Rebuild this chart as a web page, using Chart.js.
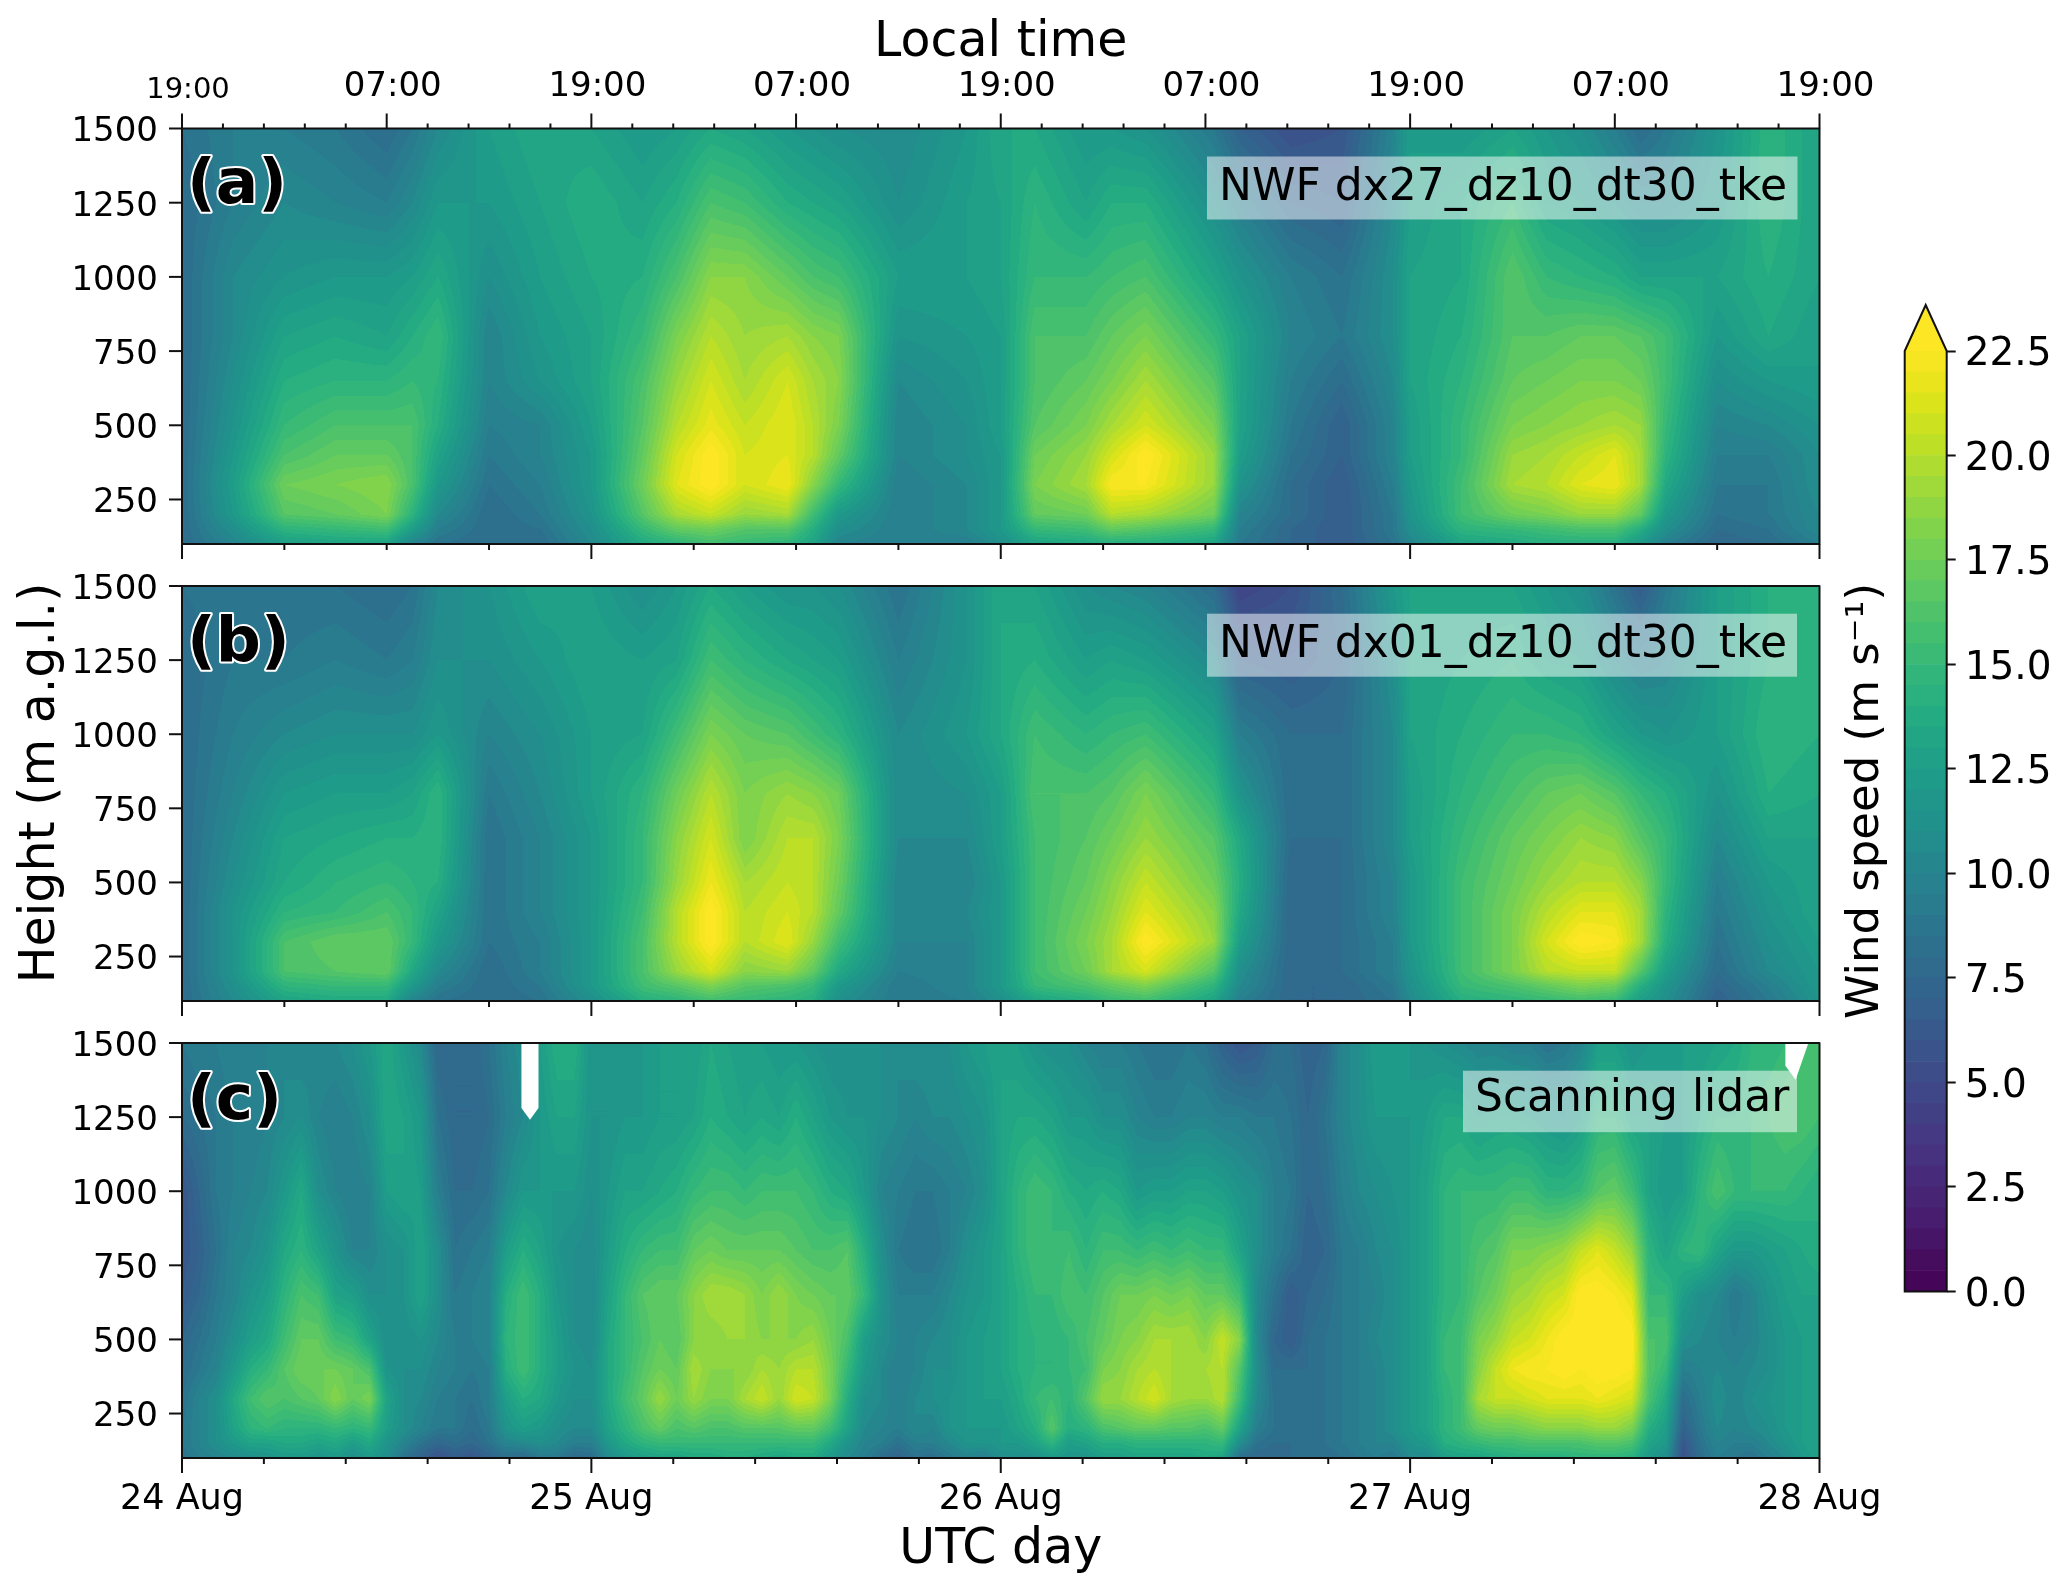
<!DOCTYPE html>
<html>
<head>
<meta charset="utf-8">
<title>Wind speed</title>
<script src="https://cdn.jsdelivr.net/npm/chart.js@4"></script>
<style>
  html, body { margin: 0; padding: 0; background: #fff; }
  #page { position: relative; width: 2067px; height: 1590px; overflow: hidden; }
  canvas { position: absolute; }
</style>
</head>
<body>
<div id="page">
  <canvas id="panelA" width="1910" height="570" style="left:0;top:0"></canvas>
  <canvas id="panelB" width="1910" height="480" style="left:0;top:550px"></canvas>
  <canvas id="panelC" width="1910" height="580" style="left:0;top:1010px"></canvas>
  <canvas id="colorbar" width="229" height="1030" style="left:1838px;top:290px"></canvas>
</div>
<script>
// height levels (m a.g.l.) of every column below
var heights = [100, 150, 200, 300, 400, 500, 650, 800, 1000, 1250, 1500];

// hours since 24 Aug 00 UTC
var modelHours = [0, 3, 6, 9, 12, 13.5, 15, 18, 21, 24, 27, 29, 31, 33, 35.5, 37, 38.5, 42, 46, 48, 50, 53, 54.5, 56.5,
  60.5, 62, 65, 68, 71, 72, 75, 78, 80, 82, 84, 85.5, 87, 90, 93, 96];
var lidarHours = [0, 1, 2, 3, 4, 5, 6, 7, 8, 9, 10, 11, 12, 13, 14, 15, 16, 17, 18, 19, 20, 21, 22, 23, 24,
  25, 26, 27, 28, 29, 30, 31, 32, 33, 34, 35, 36, 37, 38, 39, 40, 41, 42, 43, 44, 45, 46, 47, 48,
  49, 50, 51, 52, 53, 54, 55, 56, 57, 58, 59, 60, 61, 62, 63, 64, 65, 66, 67, 68, 69, 70, 71, 72,
  73, 74, 75, 76, 77, 78, 79, 80, 81, 82, 83, 84, 85, 86, 87, 88, 89, 90, 91, 92, 93, 94, 95, 96];

// wind speed (m/s), one row per time, bottom to top
var dx27 = [
  [8, 8, 8, 8, 8, 8, 8, 8, 8, 8, 8.5],
  [10, 11, 12, 12.5, 12, 11.5, 11, 10.5, 10.5, 9.5, 9.5],
  [12.5, 14.5, 16.5, 17.5, 16, 15, 14, 13, 11.5, 10.5, 9.5],
  [13, 15, 17, 18, 17, 16, 14.5, 13.5, 12, 10, 9],
  [13, 15.5, 18, 18.5, 17, 16, 14.5, 13, 12, 9.5, 8],
  [10, 12.5, 14.5, 16, 16, 16, 15, 14, 12.5, 10.5, 9],
  [8.5, 9.5, 10.5, 12, 13, 14, 14.5, 15, 13.5, 12, 10.5],
  [8, 8, 8, 8.5, 9, 9.5, 10, 10, 11, 12, 12.5],
  [8, 8.5, 9, 9.5, 10, 10, 11.5, 12, 12.5, 13, 13.5],
  [10.5, 11, 11.5, 12, 12, 12.5, 13, 13, 13.5, 14, 13],
  [13.5, 15, 16.5, 17.5, 17, 16.5, 16, 15, 14, 13, 12],
  [14.5, 17, 19.5, 21.5, 21, 20, 19, 18, 16, 14, 12.5],
  [15.5, 17.5, 20.5, 23, 23, 21.8, 21, 20, 18.5, 16, 13.5],
  [15, 16.5, 19, 21, 21, 20.5, 19.5, 19, 18.5, 15.5, 13],
  [14.5, 16.5, 19.5, 22, 21.5, 21.5, 21, 19.5, 17, 14, 12],
  [13, 14, 15.5, 18.5, 20, 20, 19.5, 18.5, 16, 13.5, 11.5],
  [10, 11, 12, 15, 17, 18, 18.5, 18, 15.5, 13, 11],
  [9.5, 9.5, 9.5, 9.5, 10, 10, 10.5, 11.5, 12.5, 11, 10.5],
  [9.5, 10.5, 10.5, 10.5, 11, 11, 11.5, 12, 12.5, 12.5, 12],
  [11, 12, 12, 12, 12, 12.5, 12.5, 12.5, 13, 13, 13.5],
  [13, 15, 17, 18, 17.5, 16.5, 16, 16, 15, 14.5, 13.5],
  [13.5, 15.5, 17.5, 19.5, 19, 18, 17, 16, 15, 13, 12],
  [14, 17, 20, 22.5, 21, 19.5, 18, 17, 15.5, 14, 12],
  [14, 16.5, 19.5, 22.5, 23, 21, 19.5, 18, 16, 14, 11.5],
  [13, 15, 17.5, 19, 19, 18, 16.5, 15, 13, 11, 9],
  [9, 9.5, 10, 11.5, 12.5, 13, 13, 13, 11.5, 9.5, 7],
  [7.5, 7.5, 8, 8, 8.5, 9, 9.5, 10, 9.5, 7.5, 5.5],
  [6.5, 6.5, 6.5, 6.5, 7, 7, 8, 9, 8.5, 7, 6],
  [8.5, 9, 9, 9.5, 10, 10, 10.5, 11, 11, 10.5, 10],
  [10, 11, 11.5, 12, 12.5, 12.5, 13, 13, 13, 12.5, 12.5],
  [13, 14.5, 15.5, 15.5, 15, 15, 14.5, 14, 13.5, 13.5, 12],
  [13.5, 15, 17.5, 19.5, 19, 18, 17, 16.5, 16.5, 15, 13],
  [14, 15.5, 18, 20, 19.5, 18.5, 17.5, 16.5, 15, 13, 12],
  [14, 16, 19, 21.5, 20.5, 19, 18, 17, 14.5, 12.5, 11],
  [14, 16, 19, 22, 21.5, 19.5, 18, 17, 14, 11.5, 9.5],
  [12, 14, 17, 19.5, 19.5, 19, 17.5, 16.5, 13, 10.5, 8],
  [9.5, 11, 12, 13.5, 14.5, 15, 15.5, 15.5, 13, 10.5, 9],
  [7.5, 8, 8.5, 9, 9.5, 10, 11, 12, 13, 12, 11.5],
  [8, 8.5, 9, 9, 9.5, 10.5, 12, 13.5, 14, 14.5, 14.5],
  [9.5, 10.5, 10.5, 11, 11, 11.5, 12.5, 12.5, 13, 13, 13]
];
var dx01 = [
  [8, 8, 8, 8, 8, 8, 8, 8, 8, 8, 8.5],
  [10.5, 11, 11.5, 11.5, 11.5, 11, 10.5, 10, 9.5, 9, 9],
  [13, 14.5, 16, 16, 14.5, 13.5, 13, 12, 10.5, 9, 8.5],
  [13.5, 15, 16.5, 17, 15, 14.5, 13.5, 12.5, 11, 9.5, 8.5],
  [13.5, 15, 17, 17, 16, 15, 14, 12.5, 11, 9, 8],
  [10, 12, 13.5, 15, 15, 14.5, 14, 13, 11, 9.5, 8.5],
  [8.5, 9.5, 10.5, 12, 13, 14, 14.5, 14.5, 12, 11, 10.5],
  [8, 8, 8, 8.5, 8.5, 8.5, 8.5, 9, 10, 11, 11.5],
  [8.5, 9, 9.5, 9.5, 10, 10, 10, 10.5, 11, 12, 13],
  [11, 12, 12, 12, 12, 12, 12, 12.5, 12.5, 13, 12.5],
  [14, 15.5, 16, 16, 15.5, 15, 15, 14.5, 13, 12.5, 11],
  [14.5, 16.5, 19, 20, 20, 19, 18.5, 17.5, 15.5, 13, 12],
  [15.5, 18, 21, 23, 23, 22, 21, 20, 18, 15.5, 13.5],
  [15, 16.5, 18.5, 20, 20, 19.5, 18, 18, 17, 14.5, 12.5],
  [14.5, 16, 19, 21.5, 21, 20.5, 20, 19, 16.5, 13.5, 11.5],
  [14, 15, 17, 19, 20, 20, 20, 18.5, 15.5, 13, 11.5],
  [11, 12, 13.5, 15.5, 17, 17.5, 18, 17.5, 14.5, 12.5, 11],
  [9, 9, 9.5, 10, 10, 10, 10.5, 10.5, 10.5, 9.5, 8.5],
  [9.5, 10, 10, 10, 10.5, 10, 10.5, 11, 12, 11.5, 11.5],
  [11, 12, 12, 12, 12, 12, 12.5, 12.5, 13.5, 13.5, 13.5],
  [13, 15, 15.5, 15.5, 15.5, 15.5, 15.5, 16, 15.5, 14, 13],
  [14, 16, 17.5, 18, 17.5, 17, 16.5, 16, 14.5, 12.5, 11],
  [15, 17, 19.5, 19.5, 19, 18.5, 17.5, 16.5, 15, 13, 10.5],
  [15.5, 18, 21, 23, 21.5, 20.5, 19, 18, 15.5, 12.5, 10],
  [13, 14.5, 16.5, 19, 18.5, 17.5, 16.5, 15, 13, 10.5, 8],
  [9.5, 10.5, 11, 12.5, 13.5, 14, 13.5, 11.5, 9.5, 7, 4.5],
  [7.5, 7.5, 7.5, 7.5, 7.5, 7.5, 8, 8, 8, 6.5, 5.5],
  [7.5, 7.5, 8, 8, 8, 8, 8, 8, 8, 7.5, 8],
  [8.5, 9, 9.5, 9.5, 10, 10, 10.5, 10.5, 10.5, 11, 12],
  [10.5, 11, 11.5, 12, 12, 12, 12.5, 12.5, 13, 13, 13],
  [14, 15, 15.5, 15.5, 15.5, 15.5, 15, 14.5, 14, 13.5, 13],
  [14.5, 16, 18, 18, 18, 17.5, 17, 16, 15, 14, 13],
  [15, 17, 20, 21, 20, 19, 18, 17, 15, 13, 12],
  [15.5, 18, 20.5, 23, 21.5, 20, 19, 17.5, 14.5, 12.5, 11],
  [15, 17.5, 20.5, 22.5, 21.5, 20, 18.5, 16.5, 13, 10.5, 8.5],
  [12.5, 14, 16.5, 19.5, 19.5, 18.5, 16.5, 15, 12, 9.5, 6.5],
  [11, 11.5, 12.5, 14, 14.5, 15, 15, 14, 11.5, 10, 9],
  [7, 7.5, 8, 8.5, 9, 9.5, 10.5, 11.5, 12.5, 12.5, 12.5],
  [9, 9.5, 10.5, 11, 11.5, 12, 13, 14, 14.5, 14, 14],
  [11.5, 12, 12, 12.5, 13, 13, 13, 13.5, 14, 14.5, 14.5]
];
var lidar = [
  [8.5, 9, 9, 8.5, 8, 7.5, 6.5, 6, 6, 8, 9],
  [9.5, 10, 10, 10, 9, 8.5, 7.5, 7, 7.5, 8.5, 9.5],
  [10, 11, 11, 11, 10, 9.5, 9, 8.5, 9, 9, 9.5],
  [10.5, 12, 13, 13.5, 12, 11, 10, 10, 9.5, 9.5, 10],
  [11, 13, 14.5, 15.5, 14, 12.5, 11.5, 10.5, 10, 9.5, 10],
  [11.5, 13, 15, 16.5, 15, 13.5, 12.5, 11.5, 10.5, 10, 10],
  [12, 13.5, 14.5, 16, 16.5, 15.5, 14.5, 13.5, 12, 10.5, 10.5],
  [12, 13.5, 14.5, 16.5, 17.5, 17, 16, 14.5, 13.5, 11, 10],
  [11.5, 13, 14.5, 17, 17.5, 17, 15.5, 13, 11, 10, 10.5],
  [12, 13.5, 15, 18.5, 17.5, 15.5, 13, 11.5, 10, 9.5, 10.5],
  [11, 12.5, 14.5, 17, 17, 15, 12.5, 10, 9.5, 10, 11],
  [12, 13.5, 15, 18, 16, 13, 11, 10, 10, 11, 12],
  [11, 11.5, 12.5, 13, 11.5, 11, 11, 11, 12.5, 13.5, 13.5],
  [8.5, 10, 11, 11, 11, 11, 11.5, 11.5, 13, 13, 12],
  [7, 8.5, 10, 10.5, 11, 11.5, 13, 13, 12.5, 12, 10.5],
  [5.5, 7.5, 9, 9.5, 10, 10.5, 11, 11, 9.5, 8.5, 7.5],
  [6.5, 8, 9, 9, 9.5, 9.5, 9, 8.5, 8, 7.5, 7.5],
  [6, 7.5, 8, 8.5, 9, 9.5, 9.5, 9, 8, 7.5, 7.5],
  [7, 8.5, 9, 9.5, 9.5, 10, 10, 9.5, 8.5, 8, 8.5],
  [8, 10, 11.5, 12.5, 14, 14.5, 14, 12.5, 10.5, 9.5, 10],
  [7.5, 10.5, 12.5, 14, 15.5, 15.5, 15.5, 14, 12, 10.5, 11],
  [9, 11, 12, 13.5, 14, 14, 14, 13, 12, 12, 12.5],
  [9, 10.5, 11, 12, 12.5, 12.5, 12, 11.5, 12, 13, 14],
  [7.5, 9.5, 10.5, 11, 11.5, 11, 11, 11, 12, 13, 14],
  [8, 9.5, 10.5, 11, 11, 10.5, 10.5, 10.5, 11, 11.5, 11.5],
  [10.5, 12, 13, 13.5, 13.5, 13.5, 13, 12.5, 12, 11.5, 11.5],
  [12, 13.5, 14.5, 15.5, 15, 15, 15, 14, 13, 12, 11.5],
  [12.5, 14.5, 16, 17, 16.5, 16, 16.5, 15, 13, 12, 12],
  [13, 15, 17, 19, 17.5, 17, 17, 15.5, 13.5, 12.5, 12.5],
  [13, 15, 16, 17.5, 17, 16.5, 17, 15.5, 14, 12.5, 12.5],
  [13.5, 15, 16.5, 19, 19.5, 18.5, 18.5, 17, 15, 13, 12.5],
  [13.5, 15, 16, 18, 18.5, 18.5, 19.5, 17.5, 15.5, 14, 13.5],
  [14, 15, 16, 18, 18.5, 19, 19.5, 17, 15.5, 13.5, 13],
  [14, 15, 16.5, 19.5, 18.5, 19, 19, 17, 15, 13, 12.5],
  [13.5, 15, 16.5, 20.5, 19.5, 18.5, 18, 17, 15.5, 13.5, 12.5],
  [13, 15, 16.5, 19, 19, 18.5, 19, 17, 15.5, 13, 12],
  [13.5, 15, 17, 21, 20, 18.5, 18, 16.5, 15.5, 14, 12],
  [13.5, 15, 17, 20.5, 20, 19, 17.5, 16, 15, 13, 11.5],
  [12, 13.5, 15.5, 18, 18, 17.5, 17, 16, 14, 12, 11],
  [10.5, 11.5, 13, 14, 15, 16, 17, 16.5, 13.5, 11.5, 11],
  [9.5, 10, 10.5, 11, 12, 12.5, 15, 14, 12, 11.5, 11],
  [8, 9.5, 10, 10.5, 10.5, 11, 11.5, 11, 10, 11, 11],
  [7, 8.5, 9.5, 9.5, 9.5, 10, 9.5, 9, 9.5, 10.5, 10.5],
  [8.5, 9.5, 10.5, 10.5, 10, 10, 9.5, 8.5, 9, 10, 11],
  [8, 9.5, 10, 11, 11, 10.5, 9.5, 8.5, 9, 10.5, 11],
  [9, 10.5, 11.5, 11.5, 11, 11, 10.5, 9.5, 9.5, 10.5, 11],
  [10, 11.5, 12, 12, 12, 12, 11.5, 11, 10, 11, 12],
  [9.5, 11.5, 12, 12.5, 12.5, 12.5, 12, 12, 11, 11.5, 12.5],
  [11, 12, 12, 12.5, 13, 13, 13, 13, 13, 13, 13],
  [11, 12, 13, 13.5, 14, 14, 14, 14.5, 14.5, 13.5, 12.5],
  [11, 13, 14, 15, 14.5, 14.5, 15, 15.5, 15.5, 13.5, 11.5],
  [12, 14.5, 16.5, 15.5, 14.5, 14.5, 15, 15, 15, 13, 11],
  [11.5, 12.5, 14, 14.5, 15, 15, 16, 15.5, 14, 12, 11],
  [11.5, 13, 14.5, 16.5, 15.5, 16, 15.5, 14.5, 13.5, 12, 10],
  [12.5, 14, 16, 19, 18, 17, 16.5, 15.5, 14, 11, 9.5],
  [12.5, 14, 16.5, 19, 18.5, 18, 17.5, 15.5, 13.5, 11, 9.5],
  [13, 14.5, 17, 20, 19.5, 18.5, 17.5, 15, 12, 10, 9],
  [13, 14.5, 17, 21, 20, 19.5, 18, 15.5, 12.5, 9.5, 8.5],
  [13, 14.5, 16.5, 19.5, 19.5, 19.5, 17.5, 15, 12.5, 9.5, 8.5],
  [13, 14.5, 16.5, 19, 19, 19.5, 18, 15.5, 13, 10, 9],
  [13.5, 14.5, 16, 19, 19.5, 18.5, 17, 15, 13, 10, 8.5],
  [13, 15, 17, 20, 20, 20.5, 17, 15, 12.5, 9.5, 7],
  [8, 11, 13, 15.5, 16.5, 18.5, 15.5, 13, 11.5, 9.5, 6],
  [7.5, 8.5, 9.5, 10.5, 11, 10.5, 10.5, 11, 11, 9, 6.5],
  [7.5, 8, 8.5, 8.5, 8, 7.5, 8.5, 9.5, 9.5, 9, 8],
  [8, 8, 8, 8, 8, 6.5, 6.5, 8.5, 9, 8.5, 8],
  [8, 8, 8, 8, 8, 8, 7.5, 7, 7.5, 7.5, 7],
  [8, 8.5, 8.5, 8.5, 8.5, 8.5, 8, 7.5, 8, 8.5, 7.5],
  [8.5, 9, 9, 9, 9, 9, 9, 9, 9.5, 10, 10],
  [9, 9.5, 9.5, 9.5, 9.5, 9.5, 9.5, 9.5, 10.5, 11, 11],
  [9.5, 10, 10, 10, 10, 10.5, 10, 10.5, 11, 12, 12.5],
  [9, 10, 11, 11, 11, 11, 11, 11, 11.5, 12, 12.5],
  [10.5, 11.5, 12, 12, 12, 12, 12, 12, 12, 12, 12],
  [10.5, 12, 13, 13, 13, 13, 13, 13, 13, 12.5, 11.5],
  [12.5, 14, 14.5, 14.5, 15, 15, 14.5, 14.5, 14.5, 13.5, 11],
  [13, 14.5, 15.5, 15.5, 15.5, 15.5, 15, 15, 15, 13.5, 10.5],
  [13, 15, 17, 19.5, 18.5, 18, 16.5, 16, 15, 12.5, 10],
  [13.5, 15.5, 17.5, 20.5, 20.5, 19, 17.5, 16.5, 15, 13, 10],
  [14, 15.5, 17.5, 20.5, 22, 20.5, 19, 18, 15.5, 13, 9.5],
  [14, 16, 18, 21, 22.5, 21, 19.5, 18, 15.5, 12.5, 9.5],
  [14, 16, 18.5, 21.5, 22.5, 22, 20.5, 18.5, 14.5, 12, 8.5],
  [14, 16, 18.5, 21.5, 23, 23, 21, 19, 14.5, 11.5, 9],
  [14.5, 16, 18.5, 21.5, 22.5, 23, 23, 20.5, 15, 12.5, 10],
  [14.5, 16.5, 19, 22, 23, 23.5, 23, 21.5, 16.5, 14.5, 12.5],
  [14.5, 16.5, 19, 21.5, 23, 23.5, 22.5, 20.5, 17, 14.5, 12.5],
  [14, 16, 18, 21, 22.5, 23, 21.5, 19, 15.5, 13, 11.5],
  [12, 13, 14, 16, 16.5, 16, 15, 14.5, 13, 13, 12],
  [11, 12, 12.5, 13.5, 15, 16, 15, 13, 12, 12.5, 12],
  [5.5, 6, 7, 8, 9.5, 11, 12.5, 14.5, 12.5, 12.5, 12.5],
  [8, 8.5, 9, 9.5, 10, 10.5, 11, 15, 14.5, 13.5, 12.5],
  [9.5, 10, 10.5, 11, 10.5, 10, 10.5, 13, 16, 14.5, 13],
  [9, 9.5, 10, 10, 10, 9.5, 9, 12, 15, 14.5, 13.5],
  [8.5, 9.5, 10.5, 11, 10.5, 10, 10, 12, 15, 15, 14.5],
  [9.5, 10.5, 11, 11.5, 11, 11, 11.5, 12.5, 15, 15.5, 14.5],
  [10.5, 11.5, 12, 12, 12, 12, 12.5, 13, 15, 16, 15],
  [12, 12.5, 12.5, 12.5, 12.5, 12.5, 13, 13.5, 14.5, 16, 15.5],
  [13, 13, 13, 13, 13, 13, 13, 14, 14, 15.5, 15.5]
];
// no scan reached these heights (hour, height)
var lidarGaps = [
  [[19.9, 1500], [19.9, 1281], [20.4, 1241], [20.9, 1281], [20.9, 1500]],
  [[94, 1500], [94, 1423], [94.6, 1376], [95.35, 1500]]
];

var heightTicks = [250, 500, 750, 1000, 1250, 1500];
var dayTicks = [0, 24, 48, 72, 96];
var dayLabels = ['24 Aug', '25 Aug', '26 Aug', '27 Aug', '28 Aug'];
var sixHourTicks = [6, 12, 18, 30, 36, 42, 54, 60, 66, 78, 84, 90];
var lidarMinorTicks = [4.8, 9.6, 14.4, 19.2, 28.8, 33.6, 38.4, 43.2, 52.8, 57.6, 62.4, 67.2, 76.8, 81.6, 86.4, 91.2];
var localTicks = [0, 12, 24, 36, 48, 60, 72, 84, 96];
var localLabels = ['19:00', '07:00', '19:00', '07:00', '19:00', '07:00', '19:00', '07:00', '19:00'];
var localMinorTicks = [2.4, 4.8, 7.2, 9.6, 14.4, 16.8, 19.2, 21.6, 26.4, 28.8, 31.2, 33.6, 38.4, 40.8, 43.2, 45.6,
  50.4, 52.8, 55.2, 57.6, 62.4, 64.8, 67.2, 69.6, 74.4, 76.8, 79.2, 81.6, 86.4, 88.8, 91.2, 93.6];
var levels = [0, 0.5, 1, 1.5, 2, 2.5, 3, 3.5, 4, 4.5, 5, 5.5, 6, 6.5, 7, 7.5, 8, 8.5, 9, 9.5, 10, 10.5, 11, 11.5,
  12, 12.5, 13, 13.5, 14, 14.5, 15, 15.5, 16, 16.5, 17, 17.5, 18, 18.5, 19, 19.5, 20, 20.5, 21, 21.5, 22, 22.5];
var colorbarTicks = [0, 2.5, 5, 7.5, 10, 12.5, 15, 17.5, 20, 22.5];
var extendTip = 23.6;

var viridis = [[68,1,84],[71,19,101],[72,36,117],[70,52,128],[65,68,135],[59,82,139],[53,95,141],[47,108,142],
  [42,120,142],[37,133,142],[33,145,140],[30,156,137],[34,168,132],[47,180,124],[68,191,112],[94,201,98],
  [122,209,81],[155,217,60],[189,223,38],[223,227,24],[253,231,37]];

function viridisAt(t) {
  var p = Math.min(t, 1) * (viridis.length - 1), i = Math.min(Math.floor(p), viridis.length - 2), f = p - i;
  return [0, 1, 2].map(function (k) { return Math.round(viridis[i][k] + (viridis[i + 1][k] - viridis[i][k]) * f); });
}
var bandColors = levels.slice(0, -1).map(function (l, i) { return viridisAt((l + levels[i + 1]) / 2 / 22.5); });

var FONT = '"DejaVu Sans"';

// filled contours: every pixel goes back through the scales to the grid
var contourFill = {
  id: 'contourFill',
  beforeDatasetsDraw: function (chart) {
    var area = chart.chartArea, sx = chart.scales.x, sy = chart.scales.y;
    var pts = chart.data.datasets[0].data, nH = heights.length;
    var times = [];
    for (var k = 0; k < pts.length; k += nH) times.push(pts[k].x);
    var x0 = Math.round(area.left), y0 = Math.round(area.top);
    var w = Math.round(area.right) - x0, h = Math.round(area.bottom) - y0;
    var img = chart.ctx.createImageData(w, h);
    var cols = [], rows = [], i, j;
    for (i = 0; i < w; i++) {
      var t = sx.getValueForPixel(x0 + i + 0.5), c = 0;
      while (c < times.length - 2 && times[c + 1] < t) c++;
      cols.push([c, Math.max(0, Math.min(1, (t - times[c]) / (times[c + 1] - times[c])))]);
    }
    for (j = 0; j < h; j++) {
      var z = sy.getValueForPixel(y0 + j + 0.5), r = 0;
      while (r < nH - 2 && heights[r + 1] < z) r++;
      rows.push([r, Math.max(0, Math.min(1, (z - heights[r]) / (heights[r + 1] - heights[r])))]);
    }
    for (j = 0; j < h; j++) {
      for (i = 0; i < w; i++) {
        var ci = cols[i][0], fx = cols[i][1], ri = rows[j][0], fy = rows[j][1];
        var a = pts[ci * nH + ri].v, b = pts[(ci + 1) * nH + ri].v;
        var d = pts[ci * nH + ri + 1].v, e = pts[(ci + 1) * nH + ri + 1].v;
        var v = (a * (1 - fx) + b * fx) * (1 - fy) + (d * (1 - fx) + e * fx) * fy;
        var col = v >= 22.5 ? viridis[viridis.length - 1] : bandColors[Math.max(0, Math.floor(v / 0.5))];
        var o = (j * w + i) * 4;
        img.data[o] = col[0]; img.data[o + 1] = col[1]; img.data[o + 2] = col[2]; img.data[o + 3] = 255;
      }
    }
    chart.ctx.putImageData(img, x0, y0);
  }
};

// frame, tick marks, gaps and the labels sitting on top of the panel
var panelDecor = {
  id: 'panelDecor',
  afterDraw: function (chart) {
    var o = chart.options.plugins.panelDecor, ctx = chart.ctx, area = chart.chartArea;
    var sx = chart.scales.x, sy = chart.scales.y;
    ctx.save();
    ctx.fillStyle = '#fff';
    (o.gaps || []).forEach(function (g) {
      ctx.beginPath();
      g.forEach(function (p, i) {
        var px = sx.getPixelForValue(p[0]), py = sy.getPixelForValue(p[1]);
        if (i) ctx.lineTo(px, py); else ctx.moveTo(px, py);
      });
      ctx.closePath();
      ctx.fill();
    });

    ctx.fillStyle = 'rgba(255,255,255,0.5)';
    ctx.fillRect(o.box[0], o.box[1], o.box[2], o.box[3]);
    ctx.fillStyle = '#000';
    ctx.font = '44px ' + FONT;
    ctx.textAlign = 'left';
    ctx.textBaseline = 'alphabetic';
    ctx.fillText(o.name, o.box[0] + 12, o.nameY);

    ctx.font = 'bold 63px ' + FONT;
    ctx.strokeStyle = '#fff';
    ctx.lineWidth = 4;
    ctx.lineJoin = 'round';
    ctx.strokeText(o.letter, 187, o.letterY);
    ctx.fillText(o.letter, 187, o.letterY);

    ctx.strokeStyle = '#111';
    ctx.lineWidth = 2;
    ctx.strokeRect(area.left, area.top, area.right - area.left, area.bottom - area.top);
    function mark(x1, y1, x2, y2) { ctx.beginPath(); ctx.moveTo(x1, y1); ctx.lineTo(x2, y2); ctx.stroke(); }
    dayTicks.forEach(function (v) { var p = sx.getPixelForValue(v); mark(p, area.bottom, p, area.bottom + 15); });
    o.bottomMinor.forEach(function (v) { var p = sx.getPixelForValue(v); mark(p, area.bottom, p, area.bottom + 6); });
    heightTicks.forEach(function (v) { var p = sy.getPixelForValue(v); mark(area.left - 13, p, area.left, p); });
    if (o.localAxis) {
      localTicks.forEach(function (v) { var p = sx.getPixelForValue(v); mark(p, area.top - 15, p, area.top); });
      localMinorTicks.forEach(function (v) { var p = sx.getPixelForValue(v); mark(p, area.top - 5, p, area.top); });
    }
    if (o.yTitle) {
      ctx.translate(41, 233);
      ctx.rotate(-Math.PI / 2);
      ctx.font = '49px ' + FONT;
      ctx.textAlign = 'center';
      ctx.textBaseline = 'middle';
      ctx.fillStyle = '#000';
      ctx.fillText(o.yTitle, 0, 0);
    }
    ctx.restore();
  }
};

function makePanel(id, hours, values, geom, decor) {
  var points = [];
  hours.forEach(function (t, i) {
    heights.forEach(function (z, j) { points.push({ x: t, y: z, v: values[i][j] }); });
  });
  var scales = {
    x: {
      type: 'linear', position: 'bottom', min: 0, max: 96,
      grid: { display: false, drawTicks: false }, border: { display: false },
      afterBuildTicks: function (s) { s.ticks = dayTicks.map(function (v) { return { value: v }; }); },
      afterFit: function (s) { s.height = geom.bottom; },
      ticks: {
        display: !!geom.dayLabels, autoSkip: false, maxRotation: 0, padding: 21, color: '#000',
        font: { family: FONT, size: 35 },
        callback: function (v) { return dayLabels[dayTicks.indexOf(v)]; }
      },
      title: geom.dayLabels
        ? { display: true, text: 'UTC day', color: '#000', font: { family: FONT, size: 49 }, padding: { top: 0, bottom: 10 } }
        : { display: false }
    },
    y: {
      type: 'linear', position: 'left', min: 100, max: 1500,
      grid: { display: false, drawTicks: true, tickLength: 24 }, border: { display: false },
      afterBuildTicks: function (s) { s.ticks = heightTicks.map(function (v) { return { value: v }; }); },
      afterFit: function (s) { s.width = 182; },
      ticks: {
        padding: 0, color: '#000', labelOffset: 4,
        font: { family: FONT, size: 34, lineHeight: 1 },
        callback: function (v) { return String(v); }
      }
    }
  };
  if (decor.localAxis) {
    scales.top = {
      type: 'linear', position: 'top', min: 0, max: 96,
      grid: { display: false, drawTicks: false }, border: { display: false },
      afterBuildTicks: function (s) { s.ticks = localTicks.map(function (v) { return { value: v }; }); },
      afterFit: function (s) { s.height = geom.top; },
      ticks: {
        autoSkip: false, maxRotation: 0, padding: 21, color: '#000',
        labelOffset: 6,
        font: function (c) { return { family: FONT, size: c.index === 0 ? 29 : 34 }; },
        callback: function (v) { return localLabels[localTicks.indexOf(v)]; }
      },
      title: { display: true, text: 'Local time', color: '#000', font: { family: FONT, size: 49 }, padding: { top: 14 } }
    };
  }
  return new Chart(document.getElementById(id), {
    type: 'scatter',
    data: { datasets: [{ data: points, pointRadius: 0, xAxisID: 'x', yAxisID: 'y' }] },
    options: {
      responsive: false, animation: false, devicePixelRatio: 1,
      layout: { padding: { left: 0, right: 90.5, top: decor.localAxis ? 0 : geom.top, bottom: 0 } },
      plugins: { legend: { display: false }, tooltip: { enabled: false }, panelDecor: decor },
      scales: scales
    },
    plugins: [contourFill, panelDecor]
  });
}

makePanel('panelA', modelHours, dx27, { top: 128.5, bottom: 26 },
  { letter: '(a)', letterY: 203, name: 'NWF dx27_dz10_dt30_tke', nameY: 200, box: [1207, 156.5, 590.5, 63], bottomMinor: sixHourTicks, localAxis: true });
makePanel('panelB', modelHours, dx01, { top: 36, bottom: 29 },
  { letter: '(b)', letterY: 111, name: 'NWF dx01_dz10_dt30_tke', nameY: 107, box: [1207, 63.7, 590, 63], bottomMinor: sixHourTicks, yTitle: 'Height (m a.g.l.)' });
makePanel('panelC', lidarHours, lidar, { top: 33, bottom: 132, dayLabels: true },
  { letter: '(c)', letterY: 109, name: 'Scanning lidar', nameY: 101, box: [1463, 60.7, 334, 61.5], bottomMinor: lidarMinorTicks, gaps: lidarGaps });

// colour bar: one stacked segment per contour level
var barFrame = {
  id: 'barFrame',
  afterDraw: function (chart) {
    var ctx = chart.ctx, a = chart.chartArea, sy = chart.scales.y;
    var tip = sy.getPixelForValue(extendTip), top = sy.getPixelForValue(22.5);
    ctx.save();
    ctx.beginPath();
    ctx.moveTo(a.left, top);
    ctx.lineTo((a.left + a.right) / 2, tip);
    ctx.lineTo(a.right, top);
    ctx.closePath();
    ctx.fillStyle = 'rgb(253,231,37)';
    ctx.fill();
    ctx.beginPath();
    ctx.moveTo(a.left, a.bottom);
    ctx.lineTo(a.left, top);
    ctx.lineTo((a.left + a.right) / 2, tip);
    ctx.lineTo(a.right, top);
    ctx.lineTo(a.right, a.bottom);
    ctx.closePath();
    ctx.strokeStyle = '#111';
    ctx.lineWidth = 2;
    ctx.lineJoin = 'miter';
    ctx.stroke();
    ctx.translate(28, 511);
    ctx.rotate(-Math.PI / 2);
    ctx.font = '45px ' + FONT;
    ctx.textAlign = 'center';
    ctx.textBaseline = 'middle';
    ctx.fillStyle = '#000';
    ctx.fillText('Wind speed (m s\u207B\u00B9)', 0, 0);
    ctx.restore();
  }
};

new Chart(document.getElementById('colorbar'), {
  type: 'bar',
  data: {
    labels: ['Wind speed'],
    datasets: bandColors.map(function (c, i) {
      return {
        data: [levels[i + 1] - levels[i]],
        backgroundColor: 'rgb(' + c.join(',') + ')',
        borderWidth: 0,
        barPercentage: 1, categoryPercentage: 1
      };
    })
  },
  options: {
    responsive: false, animation: false, devicePixelRatio: 1,
    layout: { padding: { left: 66.7, right: 0, top: 61, bottom: 28.6 } },
    plugins: { legend: { display: false }, tooltip: { enabled: false } },
    scales: {
      x: { stacked: true, display: false },
      y: {
        stacked: true, position: 'right', min: 0, max: 22.5,
        grid: { drawOnChartArea: false, tickLength: 9, tickColor: '#111', tickWidth: 2 },
        border: { display: false },
        afterBuildTicks: function (s) { s.ticks = colorbarTicks.map(function (v) { return { value: v }; }); },
        afterFit: function (s) { s.width = 120.3; },
        ticks: { padding: 9, color: '#000', labelOffset: 4, font: { family: FONT, size: 39, lineHeight: 1 }, callback: function (v) { return v.toFixed(1); } }
      }
    }
  },
  plugins: [barFrame]
});
</script>
</body>
</html>
